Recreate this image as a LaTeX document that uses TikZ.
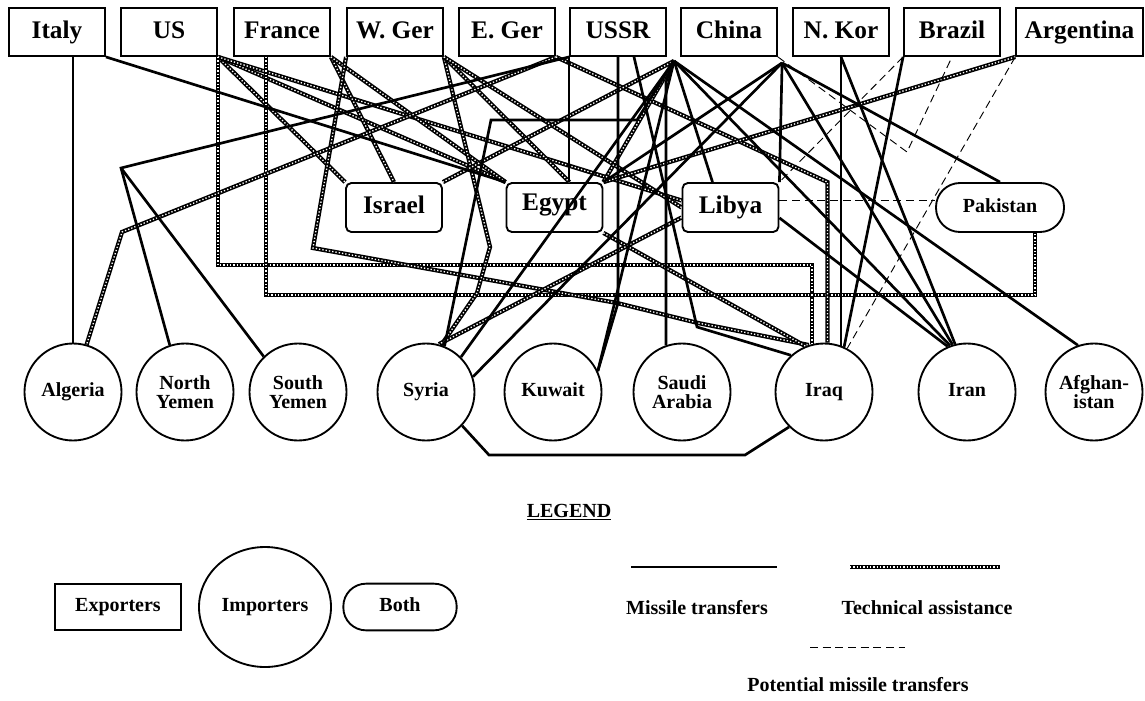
\documentclass[tikz,border=0pt]{standalone}
\usepackage{fontspec}
\setmainfont{Liberation Serif}
\usepackage{tikz}
\usetikzlibrary{calc,shapes}
\tikzstyle{exporter}=[rectangle,draw,line width=1.4pt,minimum width=72pt,minimum height=36pt,inner sep=0pt,text height=13.5pt,text depth=4.5pt,font=\bfseries\fontsize{19}{21}\selectfont]
\tikzstyle{both}=[exporter,rounded corners=4pt,minimum height=36.75pt]
\tikzstyle{importer}=[circle,draw,line width=1.4pt,minimum size=72.75pt,inner sep=0pt,align=center,font=\bfseries\fontsize{15}{14}\selectfont]
\tikzstyle{oneline}=[importer,text height=10.5pt,text depth=3.5pt]
\tikzstyle{small}=[font=\bfseries\fontsize{15}{15}\selectfont,text height=10.5pt,text depth=3.5pt]
\tikzstyle{missile}=[line width=2pt]
\tikzstyle{tech}=[preaction={draw,black,solid,line width=3.2pt},draw=white,line width=1pt,dash pattern=on 1pt off 1.5pt]
\tikzstyle{potential}=[line width=0.7pt,dash pattern=on 6pt off 3.5pt]
\begin{document}
\begin{tikzpicture}[x=0.75pt,y=-0.75pt]
      \useasboundingbox (0,0) rectangle (1145,700);
      % exporters
      \node[exporter] at (57, 32) (italy) {Italy};
			\node[exporter] at (169, 32) (us) {US};
			\node[exporter] at (282, 32) (france) {France};
			\node[exporter] at (395, 32) (wger) {W. Ger};
			\node[exporter] at (507, 32) (eger) {E. Ger};
			\node[exporter] at (618, 32) (ussr) {USSR};
			\node[exporter] at (729, 32) (china) {China};
			\node[exporter] at (841, 32) (nkor) {N. Kor};
			\node[exporter] at (952, 32) (brazil) {Brazil};
			\node[exporter, minimum width=95pt] at (1079.5, 32) (argentina) {Argentina};
      % both
			\node[both] at (394, 207.5) (israel) {Israel};
			\node[both] at (554.5, 207.5) (egypt) {\raisebox{2pt}{Egypt}};
			\node[both] at (730.5, 207.5) (libya) {Libya};
			\node[both, small, minimum width=96pt, rounded corners=18pt] at (1000, 207.5) (pakistan) {Pakistan};
      % importers
			\node[oneline] at (73, 392) (algeria) {Algeria};
			\node[importer] at (185, 392) (nyemen) {North\\Yemen};
			\node[importer] at (298, 392) (syemen) {South\\Yemen};
			\node[oneline] at (426, 392) (syria) {Syria};
			\node[oneline] at (553, 392) (kuwait) {Kuwait};
			\node[importer] at (682, 392) (saudi) {Saudi\\Arabia};
			\node[oneline] at (824, 392) (iraq) {Iraq};
			\node[oneline] at (967, 392) (iran) {Iran};
			\node[importer] at (1094, 392) (afghan) {Afghan-\\istan};

      % bends
      \coordinate (chinaW) at ($(china.south west)+(-6,4)$);
      \coordinate (nkW) at ($(nkor.south west)+(-10,6)$);
      \coordinate (ussrB) at ($(ussr.south)+(16,0)$);
      \coordinate (frA) at ($(france.south)+(-16,0)$);
      \coordinate (pkA) at ($(pakistan.south)+(35,0)$);
      \coordinate (usbase) at (0, 265);
      \coordinate (frbase) at (0, 295);
      \coordinate (yj) at (121, 168);
      \coordinate (alg1) at (122, 232);
      \coordinate (wg1) at (313, 248);
      \coordinate (wg2) at (617, 303);
      \coordinate (wg3) at (698, 323);
      \coordinate (wg4) at (490, 247);
      \coordinate (wg5) at (477, 293);
      \coordinate (sy1) at (637, 120);
      \coordinate (sy2) at (491, 120);
      \coordinate (sa1) at (666, 82);
      \coordinate (kj) at (618, 303);
      \coordinate (ir1) at (697, 327);
      \coordinate (br1) at (489, 455);
      \coordinate (br2) at (745, 455);
      \coordinate (bz1) at (907, 152);
      \coordinate (lbE) at ($(libya.east)+(0,-7)$);

      % technical assistance
      \draw[tech] (us.south east) -- (israel.north west);
			\draw[tech] (us.south east) -- (egypt.north west);
			\draw[tech] (us.south east) -- ($(libya.west)+(0,-7)$);
			\draw[tech] (us.south east) -- (us.south east |- usbase) -- (usbase -| iraq.104) -- (iraq.104);
			\draw[tech] (frA) -- (frA |- frbase) -- (frbase -| pkA) -- (pkA);
			\draw[tech] (france.south east) -- (israel.north);
			\draw[tech] (france.south east) -- (egypt.north west);
			\draw[tech] (wger.south west) -- (wg1) -- (wg2) -- (wg3) -- (iraq.108);
			\draw[tech] (wger.south east) -- (wg4) -- (wg5) -- (syria.72);
			\draw[tech] (wger.south east) -- ($(egypt.north)+(15,0)$);
			\draw[tech] (wger.south east) -- (libya.west);
			\draw[tech] (eger.south east) -- (alg1) -- (algeria.74);
			\draw[tech] (eger.south east) -- (iraq.86 |- egypt.north) -- (iraq.86);
			\draw[tech] (chinaW) -- (israel.north east);
			\draw[tech] (chinaW) -- (egypt.north east);
			\draw[tech] (argentina.south west) -- (egypt.north east);
			\draw[tech] (egypt.south east) -- (iraq.112);
			\draw[tech] ($(libya.west)+(0,10)$) -- (syria.75);

      % missile transfers
      \draw[missile] (algeria.north |- italy.south) -- (algeria.north);
			\draw[missile] (italy.south east) -- (egypt.north west);
			\draw[missile] (ussr.south west) -- (yj) -- (nyemen.108);
			\draw[missile] (yj) -- (syemen.134);
			\draw[missile] (ussr.south west) -- (ussr.south west |- egypt.north);
			\draw[missile] (ussr.south) -- (kj) -- (kuwait.25);
			\draw[missile] (ussrB) -- (ir1) -- (iraq.132);
			\draw[missile] (chinaW) -- (sy1) -- (sy2) -- (syria.68);
			\draw[missile] (chinaW) -- (sa1) -- (saudi.109);
			\draw[missile] (chinaW) -- (kuwait.25);
			\draw[missile] (chinaW) -- (syria.45);
			\draw[missile] (chinaW) -- ($(libya.north)+(-18,0)$);
			\draw[missile] (chinaW) -- (iran.110);
			\draw[missile] (chinaW) -- (afghan.109);
			\draw[missile] (nkW) -- (libya.north east);
			\draw[missile] (nkW) -- (egypt.north east);
			\draw[missile] (nkW) -- (syria.18);
			\draw[missile] (nkW) -- (pakistan.north);
			\draw[missile] (nkW) -- (iran.107);
			\draw[missile] (iraq.70 |- nkor.south) -- (iraq.70);
			\draw[missile] (nkor.south) -- (iran.104);
			\draw[missile] (brazil.south west) -- (iraq.66);
			\draw[missile] (libya.-12) -- (iran.113);
			\draw[missile] (syria.-43) -- (br1) -- (br2) -- (iraq.225);

      % potential missile transfers
      \draw[potential] (china.south east) -- (bz1) -- (brazil.south);
			\draw[potential] (brazil.south west) -- (libya.north east);
			\draw[potential] (lbE) -- (lbE -| pakistan.west);
			\draw[potential] (argentina.south west) -- (iraq.62);

      % legend
      \node[small] at (569, 513) (legend) {\underline{LEGEND}};
			\node[exporter, small, minimum width=95pt, minimum height=35pt] at (118, 607) (lgexp) {Exporters};
			\node[ellipse, draw, line width=1.4pt, small, minimum width=99pt, minimum height=90pt, inner sep=0pt] at (265, 607) (lgimp) {Importers};
			\node[both, small, minimum width=85pt, minimum height=35pt, rounded corners=17pt] at (400, 607) (lgboth) {Both};
      \coordinate (mA) at (631, 567);
      \coordinate (mB) at (777, 567);
      \coordinate (tA) at (850, 567);
      \coordinate (tB) at (1000, 567);
      \coordinate (pA) at (810, 647);
      \coordinate (pB) at (905, 647);
      \draw[missile] (mA) -- (mB);
			\draw[tech] (tA) -- (tB);
			\draw[potential] (pA) -- (pB);
			\node[small] at (697, 610) (lgmis) {Missile transfers};
			\node[small] at (927, 610) (lgtech) {Technical assistance};
			\node[small] at (858, 687) (lgpot) {Potential missile transfers};
  	\end{tikzpicture}
\end{document}
